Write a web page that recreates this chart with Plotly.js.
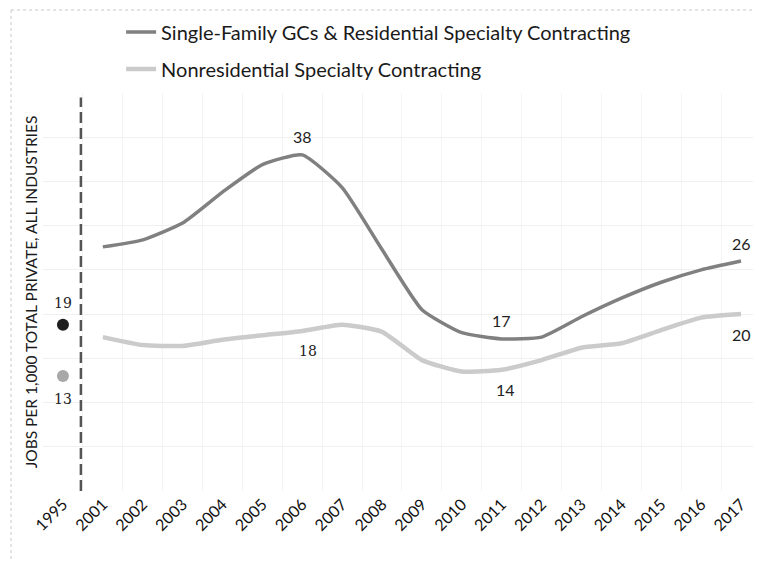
<!DOCTYPE html>
<html>
<head>
<meta charset="utf-8">
<script src="https://cdn.plot.ly/plotly-3.0.1.min.js"></script>
<style>
  html, body { margin: 0; padding: 0; background: #fff; overflow: hidden; }
  #chart { width: 759px; height: 562px; }
</style>
</head>
<body>
<div id="chart"></div>
<script>
// Categories (x axis)
const years = ["1995","2001","2002","2003","2004","2005","2006","2007","2008","2009","2010","2011","2012","2013","2014","2015","2016","2017"];
const lineYears = years.slice(1);

// Series values (jobs per 1,000 total private, all industries)
const singleFamily = [27.6, 28.4, 30.3, 33.8, 36.9, 38.0, 34.3, 27.3, 20.5, 17.9, 17.2, 17.4, 19.7, 21.8, 23.6, 25.0, 26.0];
const nonresidential = [17.4, 16.5, 16.4, 17.1, 17.6, 18.1, 18.8, 18.0, 14.8, 13.5, 13.7, 14.8, 16.2, 16.7, 18.2, 19.6, 20.0];

// 1995 reference points
const singleFamily1995 = 18.8;
const nonresidential1995 = 13.0;

// Which years get a value label
const sfLabelYears = ["2006", "2011", "2017"];
const nrLabelYears = ["2006", "2011", "2017"];

const seriesNames = ["Single-Family GCs & Residential Specialty Contracting", "Nonresidential Specialty Contracting"];

const sansFont = "Lato, 'Open Sans', sans-serif";
const serifFont = "'DejaVu Serif', 'Liberation Serif', serif";

const traces = [
  {
    x: lineYears, y: singleFamily, name: seriesNames[0], type: "scatter", mode: "lines",
    line: {color: "#808080", width: 3.5, shape: "spline", smoothing: 0.5},
    legendgroup: "a"
  },
  {
    x: lineYears, y: nonresidential, name: seriesNames[1], type: "scatter", mode: "lines",
    line: {color: "#cbcbcb", width: 4.5, shape: "spline", smoothing: 0.5},
    legendgroup: "b"
  },
  {
    x: [years[0]], y: [singleFamily1995], type: "scatter", mode: "markers",
    marker: {color: "#1e1e1e", size: 12}, showlegend: false
  },
  {
    x: [years[0]], y: [nonresidential1995], type: "scatter", mode: "markers",
    marker: {color: "#a8a8a8", size: 12}, showlegend: false
  }
];

// Value labels built from the data arrays (category index used as x position)
const annotations = [];
lineYears.forEach((yr, i) => {
  const xi = years.indexOf(yr);
  if (sfLabelYears.includes(yr)) {
    annotations.push({x: xi, y: singleFamily[i], xref: "x", yref: "y", text: String(Math.round(singleFamily[i])),
      showarrow: false, yshift: 18, font: {family: sansFont, size: 16, color: "#222"}});
  }
  if (nrLabelYears.includes(yr)) {
    annotations.push({x: xi, y: nonresidential[i], xref: "x", yref: "y", text: String(Math.round(nonresidential[i])),
      showarrow: false, yshift: -20, xshift: yr === "2006" ? 6 : (yr === "2011" ? 4 : 0),
      font: {family: yr === "2006" ? serifFont : sansFont, size: yr === "2006" ? 14 : 16, color: "#222"}});
  }
});
annotations.push({x: years.indexOf("1995"), y: singleFamily1995, xref: "x", yref: "y", text: String(Math.round(singleFamily1995)),
  showarrow: false, yshift: 22, font: {family: serifFont, size: 14, color: "#222"}});
annotations.push({x: years.indexOf("1995"), y: nonresidential1995, xref: "x", yref: "y", text: String(Math.round(nonresidential1995)),
  showarrow: false, yshift: -23, font: {family: serifFont, size: 14, color: "#222"}});

const layout = {
  width: 759, height: 562,
  margin: {l: 43, r: 6, t: 93, b: 71},
  paper_bgcolor: "#fff", plot_bgcolor: "#fff",
  font: {family: sansFont, color: "#222"},
  showlegend: true,
  legend: {
    x: 0.11, y: 1.2025, xanchor: "left", yanchor: "top",
    font: {family: sansFont, size: 20, color: "#1a1a1a"},
    traceorder: "grouped", tracegroupgap: 8, itemwidth: 30,
    bgcolor: "rgba(0,0,0,0)"
  },
  xaxis: {
    type: "category", categoryorder: "array", categoryarray: years,
    range: [-0.5, 17.3], tickangle: -45,
    tickfont: {family: sansFont, size: 16, color: "#111"},
    showgrid: true, tickson: "boundaries", gridcolor: "#f4f4f4", gridwidth: 1,
    ticks: "", showline: false, zeroline: false, fixedrange: true
  },
  yaxis: {
    range: [0, 45], dtick: 5, showticklabels: false,
    showgrid: true, gridcolor: "#f0f0f0", zeroline: false, showline: false,
    title: {text: "JOBS PER 1,000 TOTAL PRIVATE, ALL INDUSTRIES", font: {family: sansFont, size: 15.5, color: "#1a1a1a"}, standoff: 0},
    fixedrange: true
  },
  annotations: annotations,
  shapes: [
    {type: "line", xref: "x", yref: "y", x0: 0.45, x1: 0.45, y0: 0, y1: 44.5,
     line: {color: "#555", width: 2.5, dash: "11px,5px"}},
    {type: "line", xref: "paper", yref: "paper", x0: -0.045, x1: 1.0, y0: 1.2085, y1: 1.2085,
     line: {color: "#c8c8c8", width: 1, dash: "dot"}},
    {type: "line", xref: "paper", yref: "paper", x0: -0.045, x1: -0.045, y0: 1.2085, y1: -0.2,
     line: {color: "#c8c8c8", width: 1, dash: "dot"}}
  ]
};

Plotly.newPlot("chart", traces, layout, {displayModeBar: false, staticPlot: true});
</script>
</body>
</html>
